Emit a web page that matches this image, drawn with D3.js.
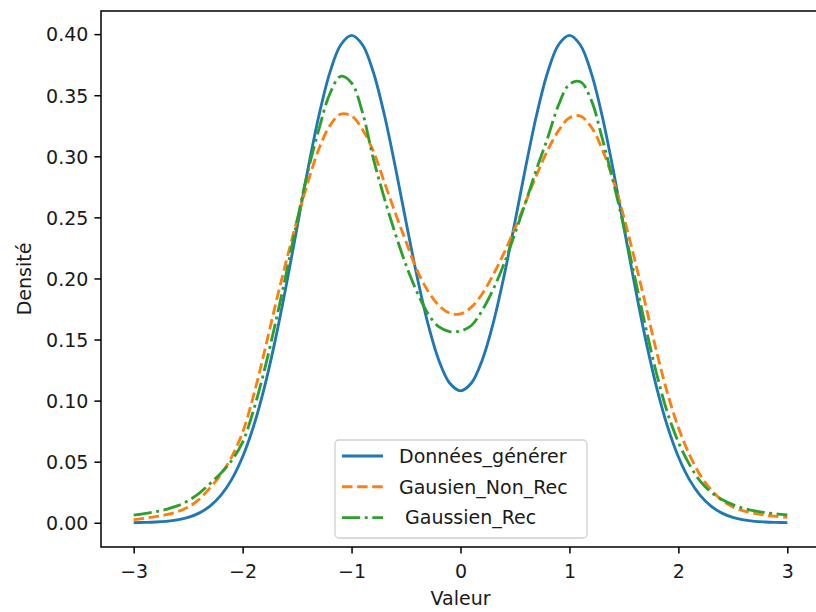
<!DOCTYPE html>
<html>
<head>
<meta charset="utf-8">
<script src="https://cdn.jsdelivr.net/npm/d3@7"></script>
<style>
  body { margin: 0; background: #fff; }
  svg { display: block; font-family: "DejaVu Sans", sans-serif; }
</style>
</head>
<body>
<div id="chart"></div>
<script>
// x grid of the curves
const xValues = [-3.0, -2.9, -2.8, -2.7, -2.6, -2.5, -2.4, -2.3, -2.2, -2.1,
  -2.0, -1.9, -1.8, -1.7, -1.6, -1.5, -1.4, -1.3, -1.2, -1.1,
  -1.0, -0.9, -0.8, -0.7, -0.6, -0.5, -0.4, -0.3, -0.2, -0.1,
  0.0,
  0.1, 0.2, 0.3, 0.4, 0.5, 0.6, 0.7, 0.8, 0.9, 1.0,
  1.1, 1.2, 1.3, 1.4, 1.5, 1.6, 1.7, 1.8, 1.9, 2.0,
  2.1, 2.2, 2.3, 2.4, 2.5, 2.6, 2.7, 2.8, 2.9, 3.0];

const donneesGenerer = [0.0001, 0.0003, 0.0006, 0.0012, 0.0024, 0.0044, 0.0079, 0.0136, 0.0224, 0.0355,
  0.0540, 0.0789, 0.1109, 0.1497, 0.1942, 0.2419, 0.2897, 0.3332, 0.3683, 0.3911,
  0.3990, 0.3913, 0.3688, 0.3344, 0.2920, 0.2464, 0.2021, 0.1633, 0.1333, 0.1144,
  0.1080,
  0.1144, 0.1333, 0.1633, 0.2021, 0.2464, 0.2920, 0.3344, 0.3688, 0.3913, 0.3990,
  0.3911, 0.3683, 0.3332, 0.2897, 0.2419, 0.1942, 0.1497, 0.1109, 0.0789, 0.0540,
  0.0355, 0.0224, 0.0136, 0.0079, 0.0044, 0.0024, 0.0012, 0.0006, 0.0003, 0.0001];

const gausienNonRec = [0.0025, 0.0037, 0.0050, 0.0066, 0.0090, 0.0128, 0.0192, 0.0285, 0.0395, 0.0540,
  0.0740, 0.1040, 0.1400, 0.1780, 0.2140, 0.2480, 0.2790, 0.3060, 0.3250, 0.3345,
  0.3330, 0.3220, 0.3040, 0.2790, 0.2540, 0.2300, 0.2070, 0.1900, 0.1780, 0.1715,
  0.1710,
  0.1765, 0.1875, 0.2030, 0.2210, 0.2410, 0.2630, 0.2850, 0.3050, 0.3210, 0.3315,
  0.3330, 0.3240, 0.3060, 0.2810, 0.2500, 0.2150, 0.1780, 0.1400, 0.1060, 0.0780,
  0.0560, 0.0390, 0.0270, 0.0185, 0.0130, 0.0097, 0.0076, 0.0062, 0.0052, 0.0045];

const gaussienRec = [0.0062, 0.0075, 0.0090, 0.0110, 0.0138, 0.0180, 0.0240, 0.0320, 0.0405, 0.0510,
  0.0660, 0.0920, 0.1250, 0.1630, 0.2040, 0.2470, 0.2880, 0.3220, 0.3510, 0.3655,
  0.3600, 0.3360, 0.2980, 0.2660, 0.2370, 0.2110, 0.1890, 0.1715, 0.1605, 0.1565,
  0.1570,
  0.1615, 0.1740, 0.1910, 0.2120, 0.2370, 0.2630, 0.2900, 0.3150, 0.3420, 0.3590,
  0.3610, 0.3460, 0.3150, 0.2800, 0.2420, 0.2010, 0.1600, 0.1220, 0.0900, 0.0660,
  0.0480, 0.0340, 0.0250, 0.0190, 0.0148, 0.0118, 0.0097, 0.0083, 0.0073, 0.0065];

const seriesNames = ["Données_générer", "Gausien_Non_Rec", " Gaussien_Rec"];
const seriesColors = ["#1f77b4", "#ff7f0e", "#2ca02c"];
const seriesDash = [null, "10.5,4.6", "18.2,4.6,2.9,4.6"];

const xTicks = [-3, -2, -1, 0, 1, 2, 3];
const yTicks = [0.00, 0.05, 0.10, 0.15, 0.20, 0.25, 0.30, 0.35, 0.40];

const xLabel = "Valeur";
const yLabel = "Densité";

// figure layout (axes box runs a bit past the right edge, as in the picture)
const W = 816, H = 612;
const plot = {left: 101, top: 11, right: 820, bottom: 547};
const fontSize = 19;
const lw = 2.85;

const svg = d3.select("#chart").append("svg")
  .attr("width", W).attr("height", H);
svg.append("rect").attr("width", W).attr("height", H).attr("fill", "#fff");

const series = [donneesGenerer, gausienNonRec, gaussienRec];
const allY = series.flat();
const xMin = d3.min(xValues), xMax = d3.max(xValues);
const yMin = d3.min(allY), yMax = d3.max(allY);
const xPad = (xMax - xMin) * 0.05, yPad = (yMax - yMin) * 0.05;

const x = d3.scaleLinear().domain([xMin - xPad, xMax + xPad]).range([plot.left, plot.right]);
const y = d3.scaleLinear().domain([yMin - yPad, yMax + yPad]).range([plot.bottom, plot.top]);

// curves
const line = d3.line()
  .x((d, i) => x(xValues[i]))
  .y(d => y(d))
  .curve(d3.curveCatmullRom);

series.forEach((s, k) => {
  svg.append("path")
    .datum(s)
    .attr("fill", "none")
    .attr("stroke", seriesColors[k])
    .attr("stroke-width", lw)
    .attr("stroke-dasharray", seriesDash[k])
    .attr("stroke-linejoin", "round")
    .attr("d", line);
});

// axes
const xAxis = d3.axisBottom(x).tickValues(xTicks).tickSize(6.6).tickPadding(6)
  .tickFormat(d => d < 0 ? "\u2212" + Math.abs(d) : String(d));
const gx = svg.append("g").attr("transform", `translate(0,${plot.bottom})`).call(xAxis);

const yAxis = d3.axisLeft(y).tickValues(yTicks).tickSize(6.6).tickPadding(6)
  .tickFormat(d3.format(".2f"));
const gy = svg.append("g").attr("transform", `translate(${plot.left},0)`).call(yAxis);

[gx, gy].forEach(g => {
  g.select(".domain").remove();
  g.selectAll(".tick line").attr("stroke", "#000").attr("stroke-width", 1.5);
  g.selectAll(".tick text").attr("fill", "#1a1a1a")
    .style("font-size", fontSize + "px")
    .style("font-family", "DejaVu Sans");
});
gx.selectAll(".tick text").attr("dy", "0.95em");
gy.selectAll(".tick text").attr("dy", "0.36em");

// spines
svg.append("rect")
  .attr("x", plot.left).attr("y", plot.top)
  .attr("width", plot.right - plot.left).attr("height", plot.bottom - plot.top)
  .attr("fill", "none").attr("stroke", "#000").attr("stroke-width", 1.5);

// axis labels
svg.append("text")
  .attr("x", (plot.left + plot.right) / 2).attr("y", 605)
  .attr("text-anchor", "middle")
  .attr("fill", "#1a1a1a")
  .style("font-size", fontSize + "px")
  .text(xLabel);

svg.append("text")
  .attr("transform", `translate(31,${(plot.top + plot.bottom) / 2}) rotate(-90)`)
  .attr("text-anchor", "middle")
  .attr("fill", "#1a1a1a")
  .style("font-size", fontSize + "px")
  .text(yLabel);

// legend, lower center
const leg = {x: 335, y: 440, w: 252, h: 98, row0: 456, rowStep: 30.8};
svg.append("rect")
  .attr("x", leg.x).attr("y", leg.y)
  .attr("width", leg.w).attr("height", leg.h)
  .attr("rx", 4).attr("ry", 4)
  .attr("fill", "#fff").attr("fill-opacity", 0.8)
  .attr("stroke", "#d0d0d0").attr("stroke-width", 1.3);

const items = svg.append("g").selectAll("g")
  .data(seriesNames)
  .enter().append("g")
  .attr("transform", (d, i) => `translate(0,${leg.row0 + i * leg.rowStep})`);

items.append("line")
  .attr("x1", 342).attr("x2", 383)
  .attr("y1", 0).attr("y2", 0)
  .attr("stroke", (d, i) => seriesColors[i])
  .attr("stroke-width", lw)
  .attr("stroke-dasharray", (d, i) => seriesDash[i]);

items.append("text")
  .attr("x", 399).attr("y", 0).attr("dy", "0.36em")
  .attr("fill", "#1a1a1a")
  .style("font-size", fontSize + "px")
  .style("white-space", "pre")
  .attr("xml:space", "preserve")
  .text(d => d);
</script>
</body>
</html>
